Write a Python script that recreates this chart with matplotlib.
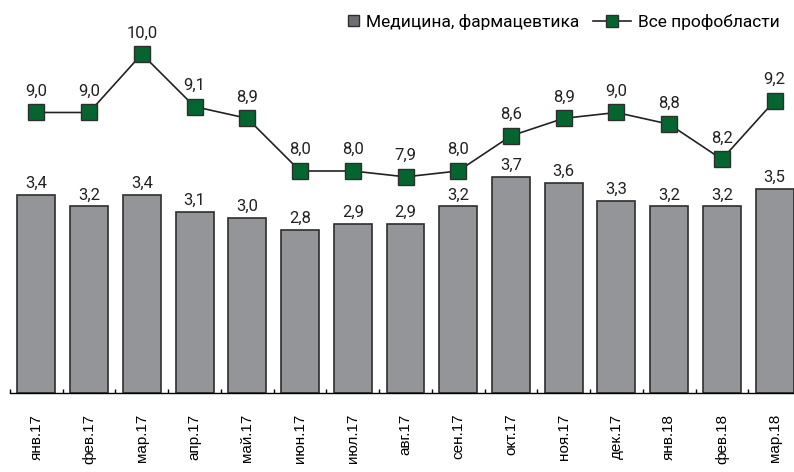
import numpy as np
import matplotlib
matplotlib.use("Agg")
import matplotlib.pyplot as plt
import matplotlib.patches as mpatches
from matplotlib.lines import Line2D
from matplotlib.legend_handler import HandlerPatch
from matplotlib import font_manager

# ===== Data =====
months = ["янв.17", "фев.17", "мар.17", "апр.17", "май.17", "июн.17", "июл.17",
          "авг.17", "сен.17", "окт.17", "ноя.17", "дек.17", "янв.18", "фев.18", "мар.18"]
medicine = [3.4, 3.2, 3.4, 3.1, 3.0, 2.8, 2.9, 2.9, 3.2, 3.7, 3.6, 3.3, 3.2, 3.2, 3.5]
all_areas = [9.0, 9.0, 10.0, 9.1, 8.9, 8.0, 8.0, 7.9, 8.0, 8.6, 8.9, 9.0, 8.8, 8.2, 9.2]
bar_label = "Медицина, фармацевтика"
line_label = "Все профобласти"

# ===== Fonts =====
names = {f.name for f in font_manager.fontManager.ttflist}
val_font = "Liberation Sans Narrow" if "Liberation Sans Narrow" in names else "Roboto"
tick_font = "Liberation Sans"

bar_face = "#939598"
bar_edge = "#2e2e2e"
green = "#05652f"

fig = plt.figure(figsize=(7.94, 4.72), dpi=100)
ax = fig.add_axes([10/794, (472-393)/472, 791/794, 393/472])
x = np.arange(len(months))

ax.bar(x, medicine, width=0.72, color=bar_face, edgecolor=bar_edge, lw=1.2)
ax.set_xlim(-0.5, len(months) - 0.5)
ax.set_ylim(0, 6.74)
for i, v in zip(x, medicine):
    ax.annotate(f"{v:.1f}".replace(".", ","), (i, v), xytext=(0, 5),
                textcoords="offset points", ha="center", va="baseline",
                fontsize=12, family=val_font, color="#222222")

for s in ["top", "right", "left"]:
    ax.spines[s].set_visible(False)
ax.spines["bottom"].set_linewidth(1.0)
ax.set_yticks([])
ax.set_xticks(x)
ax.set_xticklabels(months, rotation=90, family=tick_font, fontsize=11, va="top")
ax.tick_params(axis="x", which="major", length=0, pad=15)
ax.set_xticks(np.arange(-0.5, len(months), 1), minor=True)
ax.tick_params(axis="x", which="minor", direction="in", length=3, width=1, color="black")

# ===== Line on second scale =====
ax2 = ax.twinx()
ax2.set_ylim(4.205, 10.923)
ax2.plot(x, all_areas, "-s", color="#222222", lw=1.2, ms=11.5,
         mfc=green, mec="#2e2e2e", mew=1.0)
for i, v in zip(x, all_areas):
    ax2.annotate(f"{v:.1f}".replace(".", ","), (i, v), xytext=(0, 12),
                 textcoords="offset points", ha="center", va="baseline",
                 fontsize=12, family=val_font, color="#222222")
ax2.axis("off")

# ===== Legend =====
def square_patch(legend, orig_handle, xdescent, ydescent, width, height, fontsize):
    s = height * 0.9
    return mpatches.Rectangle((width - xdescent - s, -ydescent + (height - s) / 2), s, s)

bar_handle = mpatches.Patch(facecolor="#6d6e71", edgecolor=bar_edge, lw=1.0)
line_handle = Line2D([], [], color="#222222", lw=1.2, marker="s", ms=8.5,
                     mfc=green, mec="#2e2e2e")
fig.legend([bar_handle, line_handle], [bar_label, line_label],
           loc="upper right", bbox_to_anchor=(1.0, 1.0), ncol=2, frameon=False,
           prop={"family": val_font, "size": 12.5}, handlelength=2.2,
           handletextpad=0.4, columnspacing=0.8, borderaxespad=0.4,
           handler_map={mpatches.Patch: HandlerPatch(patch_func=square_patch)})

fig.savefig("out.png", dpi=100)
